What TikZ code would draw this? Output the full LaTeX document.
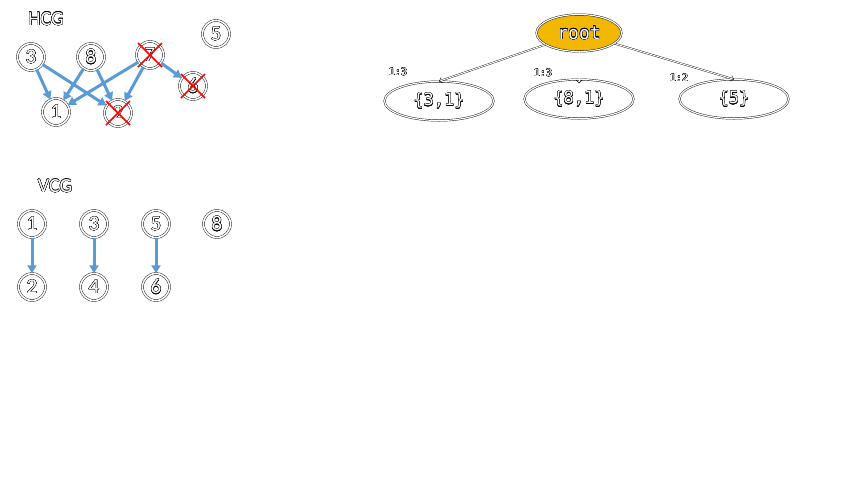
\documentclass[tikz,border=0pt]{standalone}
\usepackage{fontspec}
\setmainfont{Carlito}
\newfontfamily\monofont{DejaVu Sans Mono}
\usepackage{contour}
\contourlength{0.3pt}
\usetikzlibrary{arrows.meta,shapes.geometric}
\definecolor{arrowblue}{RGB}{91,155,213}
\definecolor{rootorange}{RGB}{242,183,0}
\newcommand{\outl}[1]{\textcolor{white}{\contour{black}{#1}}}
\tikzset{
 circ/.style={circle, draw=black, line width=0.4pt, double=white, double distance=1.6pt,
   minimum size=27pt, inner sep=0pt, font=\fontsize{21}{21}\selectfont},
 bluearrow/.style={arrowblue, line width=3pt, -{Triangle[length=8pt,width=9pt]}},
 redx/.style={red, line width=1.6pt},
 titletext/.style={font=\fontsize{20}{20}\selectfont, inner sep=0pt},
 setnode/.style={ellipse, draw=black, line width=0.4pt, double=white, double distance=1.2pt,
   minimum width=109pt, minimum height=39pt, inner sep=0pt, font=\monofont\fontsize{17}{17}\selectfont},
 rootnode/.style={ellipse, draw=black, line width=0.4pt, double=white, double distance=1.2pt,
   fill=rootorange, minimum width=85pt, minimum height=37pt, inner sep=0pt,
   font=\monofont\fontsize{18}{18}\selectfont},
 tedge/.style={draw=black, line width=0.35pt, double=white, double distance=1pt,
   -{Straight Barb[length=3pt,width=6pt]}},
 ratio/.style={font=\monofont\fontsize{10}{10}\selectfont, inner sep=0pt}
}
\begin{document}
\begin{tikzpicture}[x=1pt,y=-1pt]
\fill[white] (0,0) rectangle (853,480);
\useasboundingbox (0,0) rectangle (853,480);
% HCG
\node[titletext] (hcg) at (46,19) {\outl{HCG}};
\node[circ] (h3) at (31,57) {\outl{3}};
\node[circ] (h8) at (91,57) {\outl{8}};
\node[circ] (h7) at (150,55) {\outl{7}};
\node[circ] (h6) at (193,86) {\outl{6}};
\node[circ] (h1) at (56,112) {\outl{1}};
\node[circ] (h2) at (118,113) {\outl{2}};
\node[circ] (h5) at (216,34) {\outl{5}};
\draw[bluearrow] (h3) -- (h1);
\draw[bluearrow] (h3) -- (h2);
\draw[bluearrow] (h8) -- (h1);
\draw[bluearrow] (h8) -- (h2);
\draw[bluearrow] (h7) -- (h1);
\draw[bluearrow] (h7) -- (h2);
\draw[bluearrow] (h7) -- (h6);
\foreach \n in {h7,h6,h2}{
  \draw[redx] ([shift={(-12,-12)}]\n.center) -- ([shift={(12,12)}]\n.center);
  \draw[redx] ([shift={(12,-12)}]\n.center) -- ([shift={(-12,12)}]\n.center);
}
% VCG
\node[titletext] (vcg) at (55,186) {\outl{VCG}};
\node[circ] (v1) at (32,224) {\outl{1}};
\node[circ] (v3) at (94,224) {\outl{3}};
\node[circ] (v5) at (156,224) {\outl{5}};
\node[circ] (v8) at (217,224) {\outl{8}};
\node[circ] (v2) at (32,287) {\outl{2}};
\node[circ] (v4) at (94,287) {\outl{4}};
\node[circ] (v6) at (156,287) {\outl{6}};
\draw[bluearrow] (v1) -- (v2);
\draw[bluearrow] (v3) -- (v4);
\draw[bluearrow] (v5) -- (v6);
% tree
\node[rootnode] (root) at (579,33) {\outl{root}};
\node[setnode] (c1) at (439,101) {\outl{\{3,1\}}};
\node[setnode] (c2) at (579,99) {\outl{\{8,1\}}};
\node[setnode] (c3) at (734,99) {\outl{\{5\}}};
\draw[tedge] (root) -- (c1.north);
\draw[white, line width=0.5pt, -{Straight Barb[black,length=3pt,width=6pt]}] (root) -- ([yshift=-4pt]c2.north);
\draw[tedge] (root) -- (c3.north);
\node[ratio] (r1) at (398,72) {\outl{1:3}};
\node[ratio] (r2) at (543,73) {\outl{1:3}};
\node[ratio] (r3) at (679,78) {\outl{1:2}};
\end{tikzpicture}
\end{document}
